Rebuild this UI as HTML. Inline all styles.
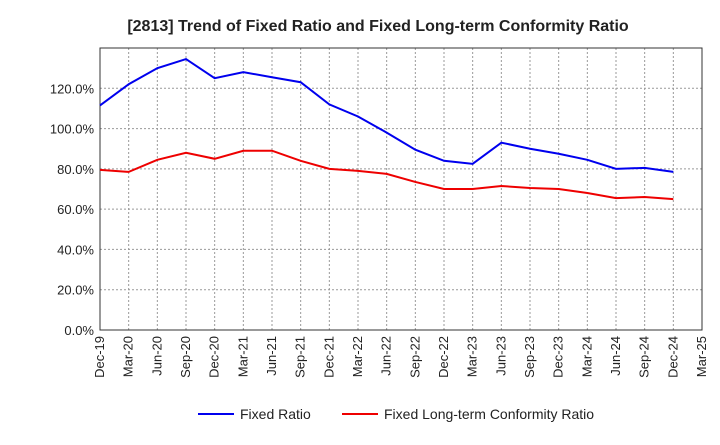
<!DOCTYPE html>
<html><head><meta charset="utf-8"><style>
body{margin:0;background:#fff;font-family:"Liberation Sans",sans-serif}
svg text{font-family:"Liberation Sans",sans-serif}
</style></head><body>
<svg id="chart" width="720" height="440" xmlns="http://www.w3.org/2000/svg">
<text x="378" y="31" text-anchor="middle" font-size="16" font-weight="bold" fill="#222">[2813]  Trend of Fixed Ratio and Fixed Long-term Conformity Ratio</text>
<g id="grid"></g><g id="axes"></g><g id="series"></g>
<g>
<line x1="198" y1="414" x2="234" y2="414" stroke="#0000ee" stroke-width="2"/>
<text x="240" y="419" font-size="14" fill="#222">Fixed Ratio</text>
<line x1="342" y1="414" x2="378" y2="414" stroke="#ee0000" stroke-width="2"/>
<text x="384" y="419" font-size="14" fill="#222">Fixed Long-term Conformity Ratio</text>
</g>
</svg>
<script>
const categories=["Dec-19","Mar-20","Jun-20","Sep-20","Dec-20","Mar-21","Jun-21","Sep-21","Dec-21","Mar-22","Jun-22","Sep-22","Dec-22","Mar-23","Jun-23","Sep-23","Dec-23","Mar-24","Jun-24","Sep-24","Dec-24","Mar-25"];
const fixedRatio=[111.5,122,130,134.5,125,128,125.5,123,112,106,98,89.5,84,82.5,93,90,87.5,84.5,80,80.5,78.5];
const conformityRatio=[79.5,78.5,84.5,88,85,89,89,84,80,79,77.5,73.5,70,70,71.5,70.5,70,68,65.5,66,65];
const yTicks=[0,20,40,60,80,100,120];
const NS="http://www.w3.org/2000/svg";
const L=100,R=702,T=48,B=330,YMAX=140;
const x=i=>L+i*(R-L)/(categories.length-1);
const y=v=>B-v/YMAX*(B-T);
function mk(tag,attrs,parent){const e=document.createElementNS(NS,tag);for(const k in attrs)e.setAttribute(k,attrs[k]);document.getElementById(parent).appendChild(e);return e;}
const g=mk('rect',{x:L,y:T,width:R-L,height:B-T,fill:'none',stroke:'#333','stroke-width':1},'axes');


yTicks.forEach(v=>{
 const ln=mk('line',{x1:L,x2:R,y1:y(v),y2:y(v),stroke:'#999','stroke-dasharray':'2,2'},'grid');
 
 
 const t=mk('text',{x:L-6,y:y(v)+5,'text-anchor':'end','font-size':13,fill:'#222'},'axes');
 t.textContent=v.toFixed(1)+'%';
 
 
});
categories.forEach((c,i)=>{
 if(i>0&&i<categories.length-1){const ln=mk('line',{x1:x(i),x2:x(i),y1:T,y2:B,stroke:'#999','stroke-dasharray':'2,2'},'grid');
 
 }
 const t=mk('text',{x:0,y:0,'text-anchor':'end','font-size':13,fill:'#222',transform:`translate(${x(i)+4},${B+6}) rotate(-90)`},'axes');
 t.textContent=c;
 
 
});
function line(data,color,name){
 const p=mk('polyline',{points:data.map((v,i)=>x(i)+','+y(v)).join(' '),fill:'none',stroke:color,'stroke-width':2},'series');
 
 
}
line(fixedRatio,'#0000ee','fixed-ratio-line');
line(conformityRatio,'#ee0000','conformity-ratio-line');
</script>
</body></html>
